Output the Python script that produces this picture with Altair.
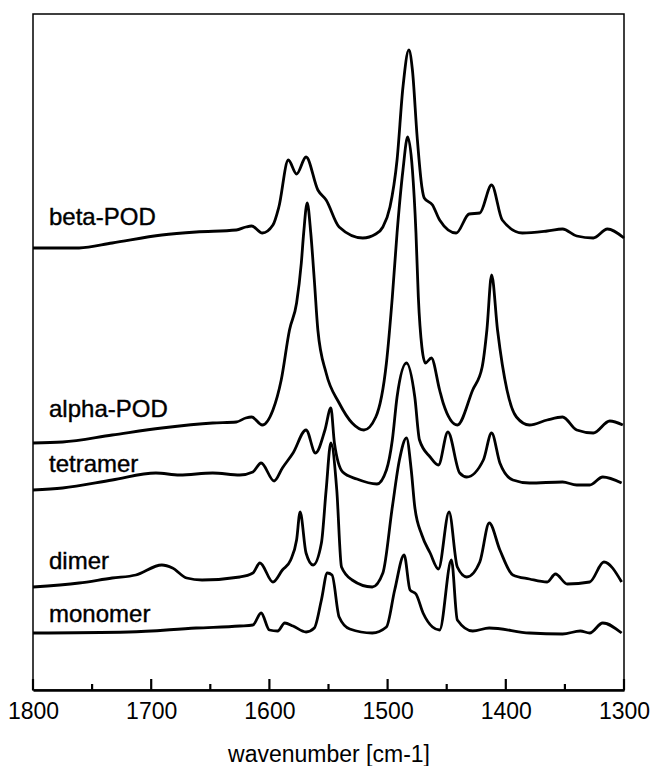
import altair as alt
import pandas as pd

# ---- spectra (wavenumber in cm-1, stacked absorbance in arbitrary units) ----
beta_wn = [1800, 1786, 1761, 1733, 1691, 1662, 1628, 1620, 1615, 1606, 1597, 1592, 1584, 1577, 1569,
           1559, 1552, 1541, 1521, 1510, 1504, 1498, 1492, 1487, 1482, 1479, 1475, 1471, 1469, 1462,
           1456, 1442, 1431, 1422, 1412, 1403, 1386, 1365, 1352, 1340, 1326, 1314, 1300]
beta_ab = [414, 414, 414, 419, 427, 430, 432, 435, 436, 429, 437, 455, 502, 488, 505,
           472, 462, 435, 424, 428, 435, 455, 502, 575, 612, 592, 525, 475, 464, 457,
           442, 429, 448, 449, 477, 442, 429, 431, 433, 426, 424, 433, 424]

alpha_wn = [1800, 1775, 1733, 1691, 1648, 1628, 1620, 1615, 1606, 1597, 1590, 1583, 1577, 1573, 1571,
            1568, 1565, 1562, 1559, 1552, 1541, 1530, 1520, 1510, 1501, 1496, 1492, 1487, 1483, 1479,
            1476, 1474, 1471, 1468, 1463, 1456, 1453, 1441, 1428, 1420, 1416, 1412, 1407, 1399, 1391,
            1380, 1365, 1352, 1340, 1326, 1312, 1301]
alpha_ab = [219, 220, 227, 234, 239, 240, 244, 245, 237, 252, 282, 332, 359, 399, 429,
            459, 429, 382, 332, 289, 259, 239, 232, 245, 299, 365, 429, 492, 525, 492,
            429, 365, 315, 299, 304, 272, 259, 237, 272, 295, 332, 387, 332, 272, 245,
            237, 242, 245, 232, 229, 241, 237]

tetra_wn = [1800, 1775, 1733, 1696, 1676, 1648, 1625, 1614, 1607, 1596, 1589, 1580, 1569, 1561, 1553,
            1548, 1545, 1538, 1526, 1509, 1501, 1496, 1492, 1484, 1477, 1473, 1464, 1457, 1449, 1439,
            1433, 1419, 1412, 1405, 1394, 1380, 1352, 1340, 1329, 1318, 1302]
tetra_ab = [172, 174, 182, 189, 187, 189, 187, 190, 199, 181, 194, 209, 232, 209, 232,
            254, 219, 190, 183, 178, 192, 222, 265, 299, 265, 222, 205, 197, 230, 189,
            185, 202, 229, 199, 182, 179, 180, 177, 177, 185, 179]

dimer_wn = [1800, 1761, 1733, 1713, 1691, 1682, 1670, 1657, 1625, 1614, 1608, 1597, 1589, 1582, 1577,
            1574, 1569, 1563, 1556, 1552, 1548, 1543, 1539, 1530, 1513, 1504, 1496, 1490, 1484, 1480,
            1477, 1471, 1464, 1457, 1448, 1441, 1433, 1422, 1414, 1405, 1394, 1380, 1365, 1358, 1348,
            1329, 1317, 1302]
dimer_ab = [75, 79, 84, 87, 97, 94, 84, 82, 85, 89, 99, 80, 92, 102, 122,
            150, 109, 97, 119, 172, 219, 172, 95, 82, 75, 89, 155, 202, 224, 192,
            155, 127, 109, 93, 150, 95, 85, 100, 139, 112, 87, 83, 80, 88, 78,
            80, 100, 80]

mono_wn = [1800, 1719, 1662, 1625, 1614, 1607, 1600, 1593, 1587, 1580, 1569, 1562, 1556, 1551, 1547,
           1541, 1532, 1513, 1501, 1494, 1486, 1481, 1476, 1470, 1462, 1456, 1446, 1441, 1428, 1414,
           1380, 1352, 1337, 1329, 1318, 1302]
mono_ab = [29, 30, 34, 36, 37, 49, 32, 31, 39, 36, 30, 34, 62, 89, 87,
           45, 33, 29, 35, 72, 107, 72, 68, 49, 35, 32, 102, 42, 31, 34,
           29, 28, 31, 29, 39, 29]

series_names = ["beta-POD", "alpha-POD", "tetramer", "dimer", "monomer"]
label_ab = [444, 252, 197, 100, 47]

major_ticks = [1800, 1700, 1600, 1500, 1400, 1300]
minor_ticks = [1750, 1650, 1550, 1450, 1350]

# ---- build tables ----
rows = []
for name, wn, ab in zip(series_names,
                        [beta_wn, alpha_wn, tetra_wn, dimer_wn, mono_wn],
                        [beta_ab, alpha_ab, tetra_ab, dimer_ab, mono_ab]):
    for w, a in zip(wn, ab):
        rows.append({"series": name, "wn": w, "ab": a})
df = pd.DataFrame(rows)

W, H = 591, 676
FONT = "Liberation Sans"
XTITLE = "wavenumber [cm-1]"
YMIN, YMAX = -28, 648

labels_df = pd.DataFrame({"name": series_names, "ab": label_ab})
ticks_df = pd.DataFrame(
    [{"wn": t, "y0": YMIN, "y1": YMIN + 11} for t in major_ticks]
    + [{"wn": t, "y0": YMIN, "y1": YMIN + 6} for t in minor_ticks]
)

xscale = alt.Scale(domain=[1300, 1800], reverse=True, nice=False, zero=False)
yscale = alt.Scale(domain=[YMIN, YMAX], nice=False, zero=False)

xaxis = alt.Axis(values=major_ticks, format="d", title=XTITLE,
                 grid=False, ticks=False, tickSize=0,
                 domainColor="black", domainWidth=2.5,
                 labelFont=FONT, labelFontSize=23, labelColor="black",
                 labelPadding=10, labelFlush=False,
                 titleFont=FONT, titleFontSize=23, titleColor="black",
                 titleFontWeight="normal", titlePadding=20)

lines = alt.Chart(df).mark_line(
    color="black", strokeWidth=2.8, interpolate="monotone"
).encode(
    x=alt.X("wn:Q", scale=xscale, axis=xaxis, title=XTITLE),
    y=alt.Y("ab:Q", scale=yscale, axis=None),
    detail="series:N",
    order=alt.Order("wn:Q", sort="descending"),
)

ticks = alt.Chart(ticks_df).mark_rule(color="black", strokeWidth=2.2).encode(
    x=alt.X("wn:Q", scale=xscale, axis=xaxis, title=XTITLE),
    y=alt.Y("y0:Q", scale=yscale, axis=None),
    y2="y1:Q",
)

labels = alt.Chart(labels_df).mark_text(
    align="left", baseline="middle", font=FONT, fontSize=24, color="black",
    stroke="black", strokeWidth=0.4
).encode(
    x=alt.value(16),
    y=alt.Y("ab:Q", scale=yscale, axis=None),
    text="name:N",
)

chart = alt.layer(lines, ticks, labels).properties(
    width=W, height=H,
    autosize=alt.AutoSizeParams(type="none"),
    padding={"left": 33, "top": 14, "right": 28, "bottom": 76},
    background="white",
).configure_view(stroke="black", strokeWidth=1.5)

chart.save("out.html", embed_options={"renderer": "svg", "actions": False})
